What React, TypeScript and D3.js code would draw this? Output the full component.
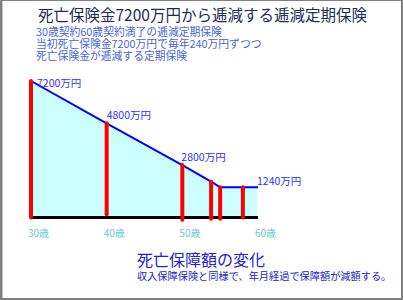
import React from "react";
import * as d3 from "d3";

const title = "死亡保険金7200万円から逓減する逓減定期保険";
const subLines = [
  "30歳契約60歳契約満了の逓減定期保険",
  "当初死亡保険金7200万円で毎年240万円ずつつ",
  "死亡保険金が逓減する定期保険",
];
const footTitle = "死亡保障額の変化";
const footNote = "収入保障保険と同様で、年月経過で保障額が減額する。";

// coverage curve (age -> amount, 万円) as drawn
const curveAges = [30, 40, 50, 53.8, 55, 60];
const curveValues = [7200, 4960, 2750, 1870, 1570, 1570];

// red bars
const barAges = [30, 40, 50, 53.8, 55, 58];
const barTops = [7200, 4960, 2750, 1870, 1570, 1570];
const barBottoms = [-30, 150, -150, -90, -90, -30];

// value labels
const labelAges = [30, 40, 50, 60];
const labelValues = [7200, 4960, 2750, 1570];
const labelTexts = ["7200万円", "4800万円", "2800万円", "1240万円"];

const tickAges = [30, 40, 50, 60];
const tickLabels = ["30歳", "40歳", "50歳", "60歳"];

const W = 403;
const H = 300;
const FONT = "'Noto Sans CJK JP', 'Noto Sans', sans-serif";

export default function App() {
  const x = d3.scaleLinear().domain([30, 60]).range([31, 258]);
  const y = d3.scaleLinear().domain([0, 7200]).range([217, 81]);

  const pts: [number, number][] = curveAges.map((a, i) => [a, curveValues[i]]);
  const line = d3
    .line<[number, number]>()
    .x((d) => x(d[0]))
    .y((d) => y(d[1]));
  const area = d3
    .area<[number, number]>()
    .x((d) => x(d[0]))
    .y0(y(0))
    .y1((d) => y(d[1]));

  const labelOffsets: [number, number][] = [
    [6, 6],
    [0, -4],
    [-1, -4],
    [-1, -2],
  ];

  return (
    <div style={{ position: "fixed", left: 0, top: 0 }}>
      <svg width={W} height={H} style={{ display: "block", fontFamily: FONT }}>
        <rect x={0} y={0} width={W} height={H} fill="#ffffff" />
        <path d={area(pts) ?? ""} fill="#ccffff" transform="translate(-1,0)" />
        <line x1={x(30) - 1} x2={x(60)} y1={y(0) + 0.5} y2={y(0) + 0.5} stroke="#000" strokeWidth={3} />
        <path d={line(pts) ?? ""} fill="none" stroke="#0000ff" strokeWidth={2} />
        {barAges.map((a, i) => (
          <line
            key={i}
            x1={x(a)}
            x2={x(a)}
            y1={y(barTops[i])}
            y2={y(barBottoms[i])}
            stroke="#ff0000"
            strokeWidth={4}
            strokeLinecap="round"
          />
        ))}
        {labelAges.map((a, i) => (
          <text
            key={i}
            x={x(a) + labelOffsets[i][0]}
            y={y(labelValues[i]) + labelOffsets[i][1]}
            fontSize={10.5}
            fill="#3333ff"
          >
            {labelTexts[i]}
          </text>
        ))}
        {tickAges.map((a, i) => (
          <text key={i} x={x(a) - 3} y={237} fontSize={10} fill="#66cccc">
            {tickLabels[i]}
          </text>
        ))}
        <text x={38} y={21} fontSize={15.5} fill="#1c2a60">
          {title}
        </text>
        <text x={36} y={36} fontSize={10.8} fill="#4a66dd">
          {subLines.map((s, i) => (
            <tspan key={i} x={36} dy={i === 0 ? 0 : 12}>
              {s}
            </tspan>
          ))}
        </text>
        <text x={137} y={266} fill="#2222dd">
          <tspan x={137} fontSize={16}>
            {footTitle}
          </tspan>
          <tspan x={137} dy={14} fontSize={10.2} fill="#2222cc">
            {footNote}
          </tspan>
        </text>
        <path d={`M0.5,${H} V0.5 H${W - 1} V${H - 1} H0`} fill="none" stroke="#808080" strokeWidth={1} />
        <line x1={1.5} x2={1.5} y1={0} y2={H} stroke="#808080" strokeWidth={2} />
        <line x1={W - 1} x2={W - 1} y1={0} y2={H} stroke="#808080" strokeWidth={2} />
        <line x1={0} x2={W} y1={H - 1} y2={H - 1} stroke="#808080" strokeWidth={2} />
      </svg>
    </div>
  );
}
